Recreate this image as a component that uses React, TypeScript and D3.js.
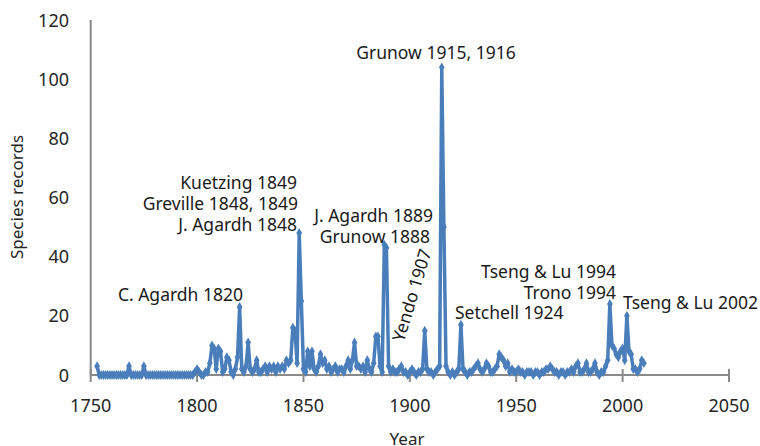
import React from 'react';
import * as d3 from 'd3';

// ---- data ----
const startYear = 1753;
// species records per year, 1753..2010
const records: number[] = [
  // 1753-1759
  3, 0, 0, 0, 0, 0, 0,
  // 1760-1769
  0, 0, 0, 0, 0, 0, 0, 0, 3, 0,
  // 1770-1779
  0, 0, 0, 0, 0, 3, 0, 0, 0, 0,
  // 1780-1789
  0, 0, 0, 0, 0, 0, 0, 0, 0, 0,
  // 1790-1799
  0, 0, 0, 0, 0, 0, 0, 0, 0, 1,
  // 1800-1809
  2, 1, 0, 0, 1, 1, 4, 10, 9, 2,
  // 1810-1819
  9, 8, 1, 2, 6, 5, 1, 0, 2, 6,
  // 1820-1829
  23, 2, 1, 3, 11, 2, 1, 2, 5, 1,
  // 1830-1839
  1, 2, 3, 1, 3, 2, 3, 1, 3, 2,
  // 1840-1849
  3, 2, 5, 4, 5, 16, 15, 4, 48, 25,
  // 1850-1859
  2, 1, 8, 3, 8, 2, 1, 3, 7, 4,
  // 1860-1869
  5, 2, 3, 1, 2, 3, 1, 2, 2, 1,
  // 1870-1879
  3, 5, 2, 5, 11, 3, 3, 2, 3, 1,
  // 1880-1889
  5, 2, 1, 4, 13, 13, 3, 1, 44, 43,
  // 1890-1899
  3, 1, 2, 1, 1, 2, 3, 1, 1, 0,
  // 1900-1909
  1, 2, 1, 0, 1, 1, 2, 15, 2, 1,
  // 1910-1919
  1, 0, 1, 2, 3, 104, 50, 3, 1, 0,
  // 1920-1929
  1, 0, 1, 2, 17, 2, 1, 0, 1, 1,
  // 1930-1939
  2, 3, 4, 2, 1, 2, 4, 3, 1, 1,
  // 1940-1949
  2, 3, 7, 6, 5, 3, 4, 1, 2, 1,
  // 1950-1959
  1, 2, 1, 1, 0, 1, 1, 1, 0, 1,
  // 1960-1969
  1, 0, 1, 1, 2, 2, 3, 2, 1, 1,
  // 1970-1979
  0, 1, 1, 0, 1, 1, 2, 1, 3, 4,
  // 1980-1989
  1, 1, 2, 4, 1, 1, 2, 4, 1, 0,
  // 1990-1999
  1, 1, 3, 5, 24, 10, 9, 7, 6, 8,
  // 2000-2010
  9, 5, 20, 8, 7, 2, 2, 1, 2, 5, 4,
];
const years: number[] = records.map((_, i) => startYear + i);

const xTickValues = [1750, 1800, 1850, 1900, 1950, 2000, 2050];
const yTickValues = [0, 20, 40, 60, 80, 100, 120];

const annotationTexts = [
  'Grunow 1915, 1916',
  'Kuetzing 1849',
  'Greville 1848, 1849',
  'J. Agardh 1848',
  'J. Agardh 1889',
  'Grunow 1888',
  'C. Agardh 1820',
  'Yendo 1907',
  'Setchell 1924',
  'Tseng & Lu 1994',
  'Trono 1994',
  'Tseng & Lu 2002',
];

// ---- layout ----
const W = 760;
const H = 446;
const X0 = 90.7;
const X1 = 729;
const Y0 = 375;
const Y1 = 20;
const BLUE = '#4a7ebb';
const AXIS = '#898989';
const FONT = "'Noto Sans', 'Open Sans', sans-serif";

// label placement: [x, y, anchor, rotate]
const annotationLayout: [number, number, string, number][] = [
  [436, 59, 'middle', 0],
  [297, 189, 'end', 0],
  [298, 210, 'end', 0],
  [297, 231, 'end', 0],
  [433, 222, 'end', 0],
  [430, 243, 'end', 0],
  [243, 301, 'end', 0],
  [411, 295, 'middle', -73],
  [455, 319, 'start', 0],
  [616, 278, 'end', 0],
  [616, 299, 'end', 0],
  [623, 309, 'start', 0],
];

export default function App() {
  const x = d3.scaleLinear().domain([1750, 2050]).range([X0, X1]);
  const y = d3.scaleLinear().domain([0, 120]).range([Y0, Y1]);

  const pts: [number, number][] = years.map((yr, i) => [yr, records[i]]);
  const line = d3
    .line<[number, number]>()
    .x((d) => x(d[0]))
    .y((d) => y(d[1]));
  const diamond = d3.symbol().type(d3.symbolDiamond).size(28)() as string;

  return (
    <svg
      width={W}
      height={H}
      style={{ position: 'absolute', left: 0, top: 0, background: '#fff' }}
      fontFamily={FONT}
    >
      {/* y axis */}
      <line x1={X0} x2={X0} y1={Y1} y2={Y0} stroke={AXIS} strokeWidth={2} />
      {yTickValues.map((t) => (
        <text
          key={'yt' + t}
          x={69}
          y={y(t) + 6.5}
          textAnchor="end"
          fontSize={18}
          fill="#262626"
        >
          {t}
        </text>
      ))}
      <text
        transform={`translate(23,${197}) rotate(-90)`}
        textAnchor="middle"
        fontSize={17}
        fill="#262626"
      >
        Species records
      </text>

      {/* x axis */}
      <line x1={X0} x2={X1} y1={Y0} y2={Y0} stroke={AXIS} strokeWidth={2} />
      {xTickValues.map((t) => (
        <g key={'xt' + t}>
          <line x1={x(t)} x2={x(t)} y1={Y0 - 6} y2={Y0 + 7} stroke={AXIS} strokeWidth={2} />
          <text x={x(t)} y={412} textAnchor="middle" fontSize={18} fill="#262626">
            {t}
          </text>
        </g>
      ))}
      <text x={407} y={445} textAnchor="middle" fontSize={17} fill="#262626">
        Year
      </text>

      {/* data line */}
      <path d={line(pts) || ''} fill="none" stroke={BLUE} strokeWidth={3.5} strokeLinejoin="round" />
      {pts.map((p, i) => (
        <path key={'m' + i} d={diamond} transform={`translate(${x(p[0])},${y(p[1])})`} fill={BLUE} />
      ))}

      {/* annotations */}
      {annotationTexts.map((txt, i) => {
        const [ax, ay, anchor, rot] = annotationLayout[i];
        return rot === 0 ? (
          <text key={'a' + i} x={ax} y={ay} textAnchor={anchor as any} fontSize={17.5} fill="#1a1a1a">
            {txt}
          </text>
        ) : (
          <text
            key={'a' + i}
            transform={`translate(${ax},${ay}) rotate(${rot})`}
            textAnchor={anchor as any}
            dominantBaseline="central"
            fontSize={17.5}
            fill="#1a1a1a"
          >
            {txt}
          </text>
        );
      })}
    </svg>
  );
}
